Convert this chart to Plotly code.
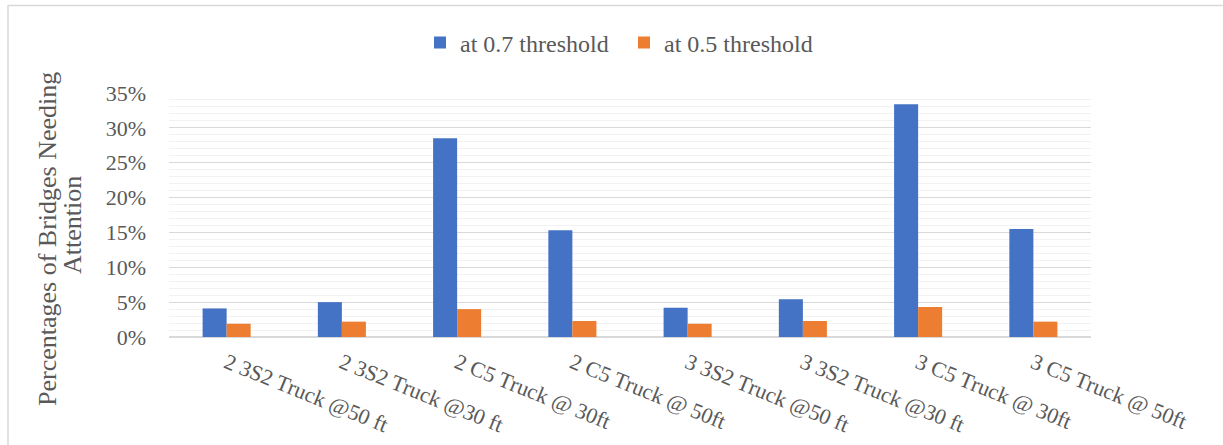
import plotly.graph_objects as go

categories = ["2 3S2 Truck @50 ft", "2 3S2 Truck @30 ft", "2 C5 Truck @ 30ft", "2 C5 Truck @ 50ft",
              "3 3S2 Truck @50 ft", "3 3S2 Truck @30 ft", "3 C5 Truck @ 30ft", "3 C5 Truck @ 50ft"]
at_07 = [0.041, 0.050, 0.285, 0.153, 0.042, 0.054, 0.334, 0.155]
at_05 = [0.019, 0.022, 0.040, 0.023, 0.019, 0.023, 0.043, 0.022]
series_names = ["at 0.7 threshold", "at 0.5 threshold"]
colors = ["#4472C4", "#ED7D31"]
title_lines = ["Percentages of Bridges Needing", "Attention"]

FONT = "Liberation Serif, Times New Roman, serif"
TXT = "#595959"

W, H = 1223, 445
L, R, T, B = 169, 132, 93, 108
pw, ph = W - L - R, H - T - B

fig = go.Figure()
for name, vals, c in zip(series_names, [at_07, at_05], colors):
    fig.add_trace(go.Bar(x=categories, y=vals, name=name, marker=dict(color=c, line=dict(width=0))))

def px_x(x):
    return (x - L) / pw

def px_y(y):
    return (H - B - y) / ph

fig.update_layout(
    width=W, height=H,
    margin=dict(l=L, r=R, t=T, b=B, autoexpand=False),
    paper_bgcolor="white", plot_bgcolor="white",
    barmode="group", bargap=0.583, bargroupgap=0,
    font=dict(family=FONT, color=TXT, size=22),
    showlegend=True,
    legend=dict(orientation="h", x=px_x(624), y=px_y(43), xanchor="center", yanchor="middle",
                font=dict(family=FONT, size=24, color=TXT), itemsizing="constant",
                entrywidth=159, entrywidthmode="pixels",
                bgcolor="rgba(0,0,0,0)"),
    xaxis=dict(tickangle=22, showgrid=False, showline=False, ticks="",
               tickfont=dict(family=FONT, size=22, color=TXT), ticklabelstandoff=8),
    yaxis=dict(range=[0, 0.35], dtick=0.05, tickformat=".0%",
               showgrid=True, gridcolor="#D9D9D9", gridwidth=1.3,
               zeroline=True, zerolinecolor="#D9D9D9", zerolinewidth=1.5,
               minor=dict(dtick=0.01, showgrid=True, gridcolor="#F2F2F2", gridwidth=1.3),
               tickfont=dict(family=FONT, size=22, color=TXT), ticklabelstandoff=22),
)

# y-axis title as two rotated lines (tighter line spacing as in the reference)
for txt, xc, yc in zip(title_lines, [47, 73], [239, 225]):
    fig.add_annotation(
        text=txt, textangle=-90,
        xref="paper", yref="paper", x=px_x(xc), y=px_y(yc), xanchor="center", yanchor="middle",
        showarrow=False, font=dict(family=FONT, size=26, color=TXT),
    )

# outer chart frame (left and top edges)
fig.add_shape(type="line", xref="paper", yref="paper", x0=px_x(8), x1=px_x(8), y0=px_y(5), y1=px_y(445),
              line=dict(color="#D9D9D9", width=1.5))
fig.add_shape(type="line", xref="paper", yref="paper", x0=px_x(8), x1=px_x(1223), y0=px_y(5.5), y1=px_y(5.5),
              line=dict(color="#D9D9D9", width=1.5))

fig.write_html("out.html", config={"displayModeBar": False},
               post_script="document.body.style.margin='0';document.body.style.overflow='hidden';")
